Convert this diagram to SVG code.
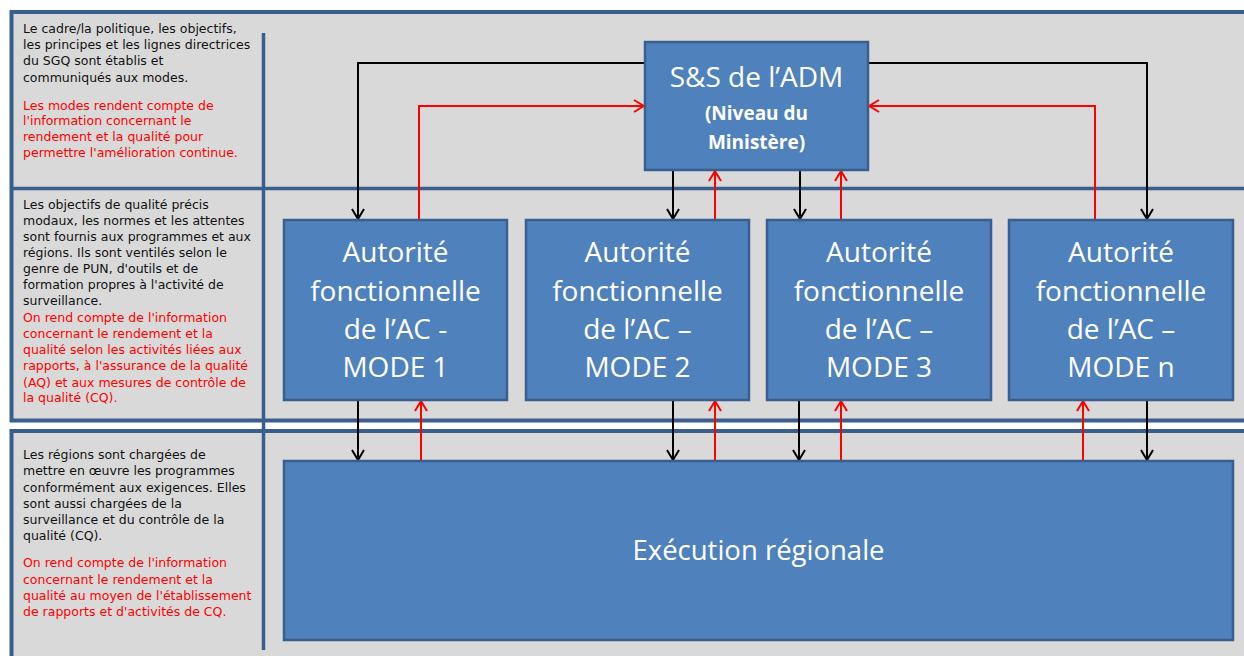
<svg xmlns="http://www.w3.org/2000/svg" width="1244" height="656" viewBox="0 0 1244 656">
<defs>
<style>
.panel{fill:#D9D9D9;stroke:#3A5F8E;stroke-width:4}
.div{stroke:#3A5F8E;stroke-width:3.5;fill:none}
.box{fill:#4F81BD;stroke:#3A5F8E;stroke-width:2.5}
.bt{font-family:"Open Sans","Liberation Sans",sans-serif;fill:#FFFFFF;text-anchor:middle}
.big{font-size:28px}
.sub{font-size:19px;font-weight:bold}
.side{font-family:"DejaVu Sans","Liberation Sans",sans-serif;font-size:12.5px}
.k{fill:#111111}
.r{fill:#FF0000}
.lk{stroke:#000000;stroke-width:2;fill:none}
.lr{stroke:#FF0000;stroke-width:2;fill:none}
</style>
<marker id="ak" viewBox="0 0 12 14" refX="11" refY="7" markerWidth="12" markerHeight="14" markerUnits="userSpaceOnUse" orient="auto">
<path d="M1,1 L11,7 L1,13" fill="none" stroke="#000000" stroke-width="2"/>
</marker>
<marker id="ar" viewBox="0 0 12 14" refX="11" refY="7" markerWidth="12" markerHeight="14" markerUnits="userSpaceOnUse" orient="auto">
<path d="M1,1 L11,7 L1,13" fill="none" stroke="#FF0000" stroke-width="2"/>
</marker>
</defs>
<rect x="0" y="0" width="1244" height="656" fill="#FFFFFF"/>
<g id="background">
<rect class="panel" x="11.5" y="12" width="1240" height="408.5"/>
<rect class="panel" x="11.5" y="431" width="1240" height="240"/>
<path class="div" d="M10,188.5 H1244"/>
<path class="div" d="M263.5,33 V650"/>
</g>
<g id="side-text" class="side">
<text class="k" x="23" y="33">Le cadre/la politique, les objectifs,</text>
<text class="k" x="23" y="49">les principes et les lignes directrices</text>
<text class="k" x="23" y="65">du SGQ sont établis et</text>
<text class="k" x="23" y="82">communiqués aux modes.</text>
<text class="r" x="23" y="110">Les modes rendent compte de</text>
<text class="r" x="23" y="125">l'information concernant le</text>
<text class="r" x="23" y="141">rendement et la qualité pour</text>
<text class="r" x="23" y="157">permettre l'amélioration continue.</text>
<text class="k" x="23" y="209">Les objectifs de qualité précis</text>
<text class="k" x="23" y="225">modaux, les normes et les attentes</text>
<text class="k" x="23" y="241">sont fournis aux programmes et aux</text>
<text class="k" x="23" y="257">régions. Ils sont ventilés selon le</text>
<text class="k" x="23" y="273">genre de PUN, d'outils et de</text>
<text class="k" x="23" y="289">formation propres à l'activité de</text>
<text class="k" x="23" y="305">surveillance.</text>
<text class="r" x="23" y="322">On rend compte de l'information</text>
<text class="r" x="23" y="338">concernant le rendement et la</text>
<text class="r" x="23" y="354">qualité selon les activités liées aux</text>
<text class="r" x="23" y="370">rapports, à l'assurance de la qualité</text>
<text class="r" x="23" y="387">(AQ) et aux mesures de contrôle de</text>
<text class="r" x="23" y="402">la qualité (CQ).</text>
<text class="k" x="23" y="459">Les régions sont chargées de</text>
<text class="k" x="23" y="475">mettre en œuvre les programmes</text>
<text class="k" x="23" y="492">conformément aux exigences. Elles</text>
<text class="k" x="23" y="508">sont aussi chargées de la</text>
<text class="k" x="23" y="524">surveillance et du contrôle de la</text>
<text class="k" x="23" y="540">qualité (CQ).</text>
<text class="r" x="23" y="567">On rend compte de l'information</text>
<text class="r" x="23" y="584">concernant le rendement et la</text>
<text class="r" x="23" y="600">qualité au moyen de l'établissement</text>
<text class="r" x="23" y="616">de rapports et d'activités de CQ.</text>
</g>
<g id="connectors">
<path class="lk" d="M645,63 H358 V219" marker-end="url(#ak)"/>
<path class="lk" d="M868,63 H1147 V219" marker-end="url(#ak)"/>
<path class="lk" d="M673,171 V219" marker-end="url(#ak)"/>
<path class="lk" d="M800,171 V219" marker-end="url(#ak)"/>
<path class="lk" d="M358,401 V460" marker-end="url(#ak)"/>
<path class="lk" d="M673,401 V460" marker-end="url(#ak)"/>
<path class="lk" d="M799,401 V460" marker-end="url(#ak)"/>
<path class="lk" d="M1147,401 V460" marker-end="url(#ak)"/>
<path class="lr" d="M419,219 V106 H644" marker-end="url(#ar)"/>
<path class="lr" d="M1095,219 V106 H869" marker-end="url(#ar)"/>
<path class="lr" d="M715,219 V171" marker-end="url(#ar)"/>
<path class="lr" d="M841,219 V171" marker-end="url(#ar)"/>
<path class="lr" d="M421,460 V401" marker-end="url(#ar)"/>
<path class="lr" d="M715,460 V401" marker-end="url(#ar)"/>
<path class="lr" d="M841,460 V401" marker-end="url(#ar)"/>
<path class="lr" d="M1083,460 V401" marker-end="url(#ar)"/>
</g>
<g id="node-ssadm">
<rect class="box" x="645" y="42" width="223" height="128"/>
<text class="bt" x="756.5" y="87" style="font-size:28px">S&amp;S de l’ADM</text>
<text class="bt sub" x="756.5" y="120">(Niveau du</text>
<text class="bt sub" x="756.5" y="149">Ministère)</text>
</g>
<g id="node-mode1">
<rect class="box" x="284" y="220" width="223" height="180"/>
<text class="bt big" x="395.5" y="262">Autorité</text>
<text class="bt big" x="395.5" y="301">fonctionnelle</text>
<text class="bt big" x="395.5" y="339">de l’AC -</text>
<text class="bt big" x="395.5" y="377">MODE 1</text>
</g>
<g id="node-mode2">
<rect class="box" x="526" y="220" width="223" height="180"/>
<text class="bt big" x="637.5" y="262">Autorité</text>
<text class="bt big" x="637.5" y="301">fonctionnelle</text>
<text class="bt big" x="637.5" y="339">de l’AC –</text>
<text class="bt big" x="637.5" y="377">MODE 2</text>
</g>
<g id="node-mode3">
<rect class="box" x="767" y="220" width="224" height="180"/>
<text class="bt big" x="879" y="262">Autorité</text>
<text class="bt big" x="879" y="301">fonctionnelle</text>
<text class="bt big" x="879" y="339">de l’AC –</text>
<text class="bt big" x="879" y="377">MODE 3</text>
</g>
<g id="node-moden">
<rect class="box" x="1009" y="220" width="224" height="180"/>
<text class="bt big" x="1121" y="262">Autorité</text>
<text class="bt big" x="1121" y="301">fonctionnelle</text>
<text class="bt big" x="1121" y="339">de l’AC –</text>
<text class="bt big" x="1121" y="377">MODE n</text>
</g>
<g id="node-execution">
<rect class="box" x="284" y="461" width="949" height="179"/>
<text class="bt" x="758.5" y="560" style="font-size:27.5px">Exécution régionale</text>
</g>
</svg>
